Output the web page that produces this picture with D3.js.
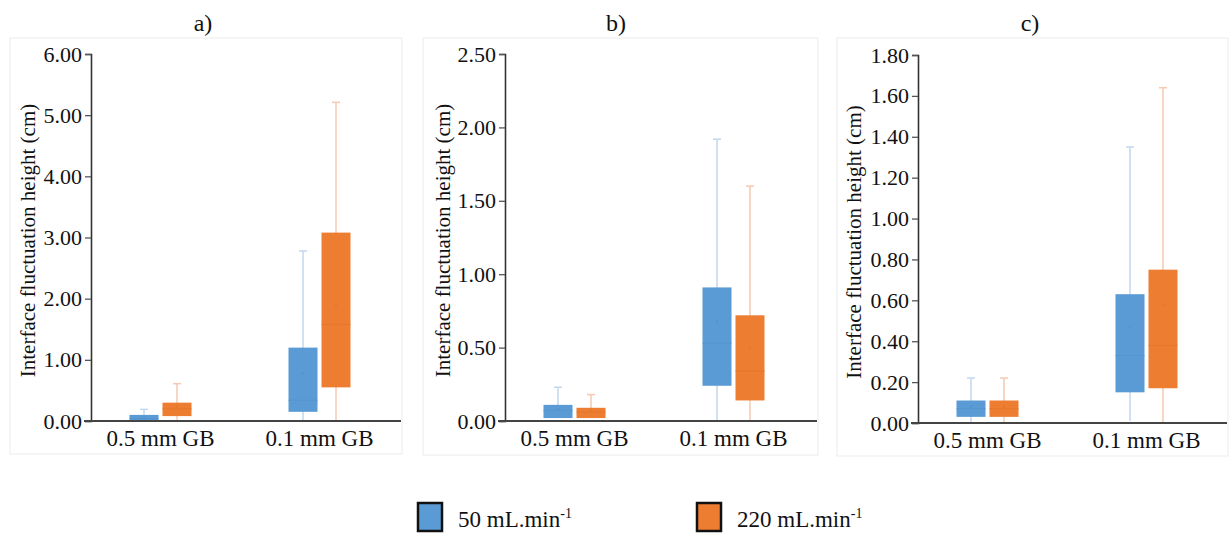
<!DOCTYPE html>
<html>
<head>
<meta charset="utf-8">
<script src="https://cdn.jsdelivr.net/npm/d3@7"></script>
</head>
<body style="margin:0;background:white">
<script>
// données
const categories = ["0.5 mm GB", "0.1 mm GB"];
const series = ["50", "220"];
const panelTitles = ["a)", "b)", "c)"];
const yMax = [6, 2.5, 1.8];
const yStep = [1, 0.5, 0.2];
// [catégorie, série, moustache basse, q1, médiane, q3, moustache haute, moyenne]
const statsA = [
	["0.5 mm GB", "50", 0, 0.01, 0.04, 0.10, 0.19, 0.06],
	["0.5 mm GB", "220", 0, 0.08, 0.20, 0.30, 0.61, 0.24],
	["0.1 mm GB", "50", 0, 0.15, 0.34, 1.20, 2.78, 0.78],
	["0.1 mm GB", "220", 0, 0.55, 1.58, 3.08, 5.21, 1.88]
];
const statsB = [
	["0.5 mm GB", "50", 0.02, 0.02, 0.07, 0.11, 0.23, 0.08],
	["0.5 mm GB", "220", 0.02, 0.02, 0.06, 0.09, 0.18, 0.07],
	["0.1 mm GB", "50", 0, 0.24, 0.53, 0.91, 1.92, 0.68],
	["0.1 mm GB", "220", 0, 0.14, 0.34, 0.72, 1.60, 0.50]
];
const statsC = [
	["0.5 mm GB", "50", 0, 0.03, 0.07, 0.11, 0.22, 0.08],
	["0.5 mm GB", "220", 0, 0.03, 0.07, 0.11, 0.22, 0.08],
	["0.1 mm GB", "50", 0.01, 0.15, 0.33, 0.63, 1.35, 0.47],
	["0.1 mm GB", "220", 0, 0.17, 0.38, 0.75, 1.64, 0.58]
];
const stats = [statsA, statsB, statsC];

const fill = {"50": "#5b9bd5", "220": "#ed7d31"};
const whisk = {"50": "#c3d7ee", "220": "#f6c9b1"};
const med = {"50": "#5495cf", "220": "#e3782d"};

// position des panneaux (cadre, axe)
const layout = [
	{frame: [10, 38, 402, 454], axisX: 91, yTop: 54, y0: 421, titleX: 203, labelX: 28},
	{frame: [423, 38, 818, 455], axisX: 505, yTop: 54, y0: 421, titleX: 616, labelX: 443},
	{frame: [837, 38, 1228, 456], axisX: 918, yTop: 55, y0: 423, titleX: 1030, labelX: 854}
];

const svg = d3.select("body").append("svg")
	.attr("width", 1231)
	.attr("height", 536);

// tous les textes en Times (Liberation Serif)
function serif(sel, size) {
	sel.style("font-family", "'Liberation Serif'").attr("font-size", size).attr("fill", "#111");
}

layout.forEach((L, i) => {
	let g = svg.append("g");
	let [fx0, fy0, fx1, fy1] = L.frame;
	g.append("rect")
		.attr("x", fx0).attr("y", fy0)
		.attr("width", fx1 - fx0).attr("height", fy1 - fy0)
		.attr("fill", "white")
		.attr("stroke", "#ececec");
	g.append("text")
		.attr("x", L.titleX).attr("y", 31)
		.attr("text-anchor", "middle")
		.text(panelTitles[i])
		.call(serif, 24);

	let y = d3.scaleLinear([0, yMax[i]], [L.y0, L.yTop]);
	let x = d3.scalePoint(categories, [L.axisX - 10, L.axisX + 308]).padding(0.5);
	let off = d3.scalePoint(series, [-16.5, 16.5]);
	let bw = 29;

	// axe y
	let ticks = d3.range(0, yMax[i] + yStep[i] / 2, yStep[i]);
	let ax = g.append("g")
		.attr("transform", `translate(${L.axisX},0)`)
		.call(d3.axisLeft(y).tickValues(ticks).tickFormat(d3.format(".2f")).tickSize(6).tickPadding(3));
	ax.attr("font-family", null);
	ax.select(".domain").attr("stroke", "#333").attr("stroke-width", 1.6);
	ax.selectAll(".tick line").attr("stroke", "#555").attr("stroke-width", 1.3);
	ax.selectAll("text").call(serif, 22);

	g.append("text")
		.attr("transform", `translate(${L.labelX},${(L.yTop + L.y0) / 2 + 3}) rotate(-90)`)
		.attr("text-anchor", "middle")
		.attr("dy", "0.35em")
		.text("Interface fluctuation height (cm)")
		.call(serif, 21);

	// boîtes
	let b = g.append("g")
		.selectAll("g")
		.data(stats[i])
		.join("g")
		.attr("transform", d => `translate(${x(d[0]) + off(d[1])},0)`);
	b.append("line")
		.attr("y1", d => y(d[2])).attr("y2", d => y(d[6]))
		.attr("stroke", d => whisk[d[1]])
		.attr("stroke-width", 1.5);
	b.append("line")
		.attr("x1", -4).attr("x2", 4)
		.attr("y1", d => y(d[6])).attr("y2", d => y(d[6]))
		.attr("stroke", d => whisk[d[1]])
		.attr("stroke-width", 1.5);
	b.append("rect")
		.attr("x", -bw / 2).attr("width", bw)
		.attr("y", d => y(d[5]))
		.attr("height", d => y(d[3]) - y(d[5]))
		.attr("fill", d => fill[d[1]]);
	b.append("line")
		.attr("x1", -bw / 2).attr("x2", bw / 2)
		.attr("y1", d => y(d[4])).attr("y2", d => y(d[4]))
		.attr("stroke", d => med[d[1]])
		.attr("stroke-width", 1);
	b.append("circle")
		.attr("cy", d => y(d[7]))
		.attr("r", 1.2)
		.attr("fill", d => med[d[1]]);

	// axe x
	g.append("line")
		.attr("x1", L.axisX - 7).attr("x2", fx1 - 1)
		.attr("y1", L.y0).attr("y2", L.y0)
		.attr("stroke", "#444")
		.attr("stroke-width", 2);
	g.append("g")
		.selectAll("text")
		.data(categories)
		.join("text")
		.attr("x", d => x(d))
		.attr("y", L.y0 + 25)
		.attr("text-anchor", "middle")
		.text(d => d)
		.call(serif, 23);
});

// légende
let leg = svg.append("g")
	.selectAll("g")
	.data(series)
	.join("g")
	.attr("transform", (d, i) => `translate(${[418, 697][i]},503)`);
leg.append("rect")
	.attr("width", 24).attr("height", 28)
	.attr("fill", d => fill[d])
	.attr("stroke", "#111")
	.attr("stroke-width", 2.5);
let lt = leg.append("text")
	.attr("x", 40).attr("y", 24)
	.call(serif, 23);
lt.append("tspan").text(d => d + " mL.min");
lt.append("tspan").attr("font-size", 14).attr("dy", -9).text("-1");
</script>
</body>
</html>
